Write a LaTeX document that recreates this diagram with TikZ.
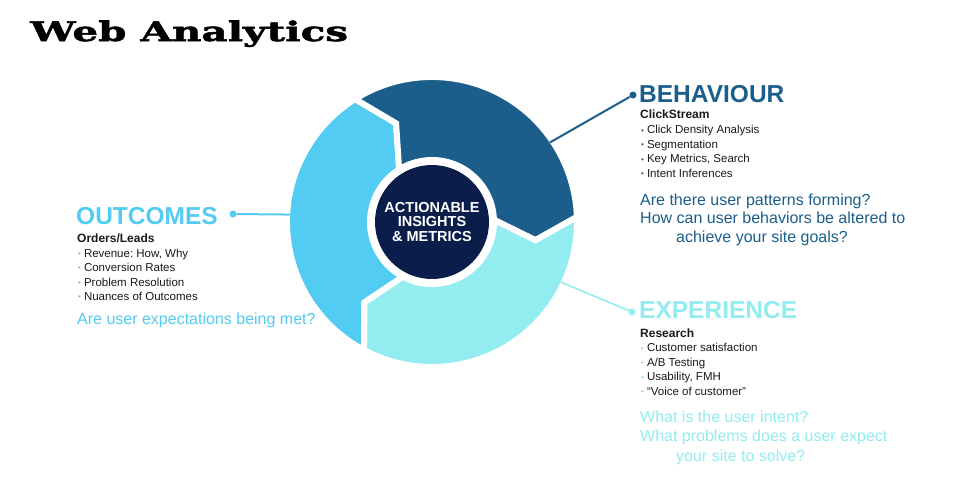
\documentclass[tikz,border=0pt]{standalone}
\usepackage{fontspec}
\setmainfont{Liberation Sans}
\newfontfamily\slabfont{DejaVu Serif}[BoldFeatures={FakeBold=2, FakeStretch=1.5}]
\definecolor{ink}{HTML}{1A1A1A}
\definecolor{navy}{HTML}{0B1E4B}
\definecolor{behav}{HTML}{1B5E8B}
\definecolor{outc}{HTML}{52CCF2}
\definecolor{exper}{HTML}{93ECF0}
\definecolor{bulgray}{HTML}{4A5560}

\newcommand\bul[1]{\raisebox{0.6pt}{\color{#1}\fontsize{8}{8}\selectfont\textbullet}\hspace{3pt}}

\begin{document}
\frenchspacing
\begin{tikzpicture}[
  x=1pt, y=-1pt,
  head/.style={anchor=base west, inner sep=0, font=\fontsize{24.5}{24.5}\selectfont\bfseries},
  sub/.style={anchor=base west, inner sep=0, text=ink, font=\fontsize{12}{12}\selectfont\bfseries},
  item/.style={anchor=base west, inner sep=0, text=ink, font=\fontsize{11.5}{11.5}\selectfont},
  ask/.style={anchor=base west, inner sep=0, font=\fontsize{16}{16}\selectfont},
  dot/.style={circle, inner sep=0, minimum size=7pt},
  link/.style={line width=2pt},
  seg/.style={draw=white, line width=6pt, line join=miter},
]
\useasboundingbox[fill=white] (0,0) rectangle (959,490);

\node[anchor=base west, inner sep=0, font=\slabfont\bfseries\fontsize{27}{27}\selectfont]
  (title) at (30,41) {Web Analytics};

% outer ring, only for anchoring the connectors
\node[circle, minimum size=284pt, inner sep=0] (ring) at (432,222) {};

% the three chevron segments
\begin{scope}[shift={(432,222)}, yscale=-1]
\foreach \a/\col in {242/outc, 122/behav, 2/exper}
  \filldraw[seg, fill=\col] (\a:145) arc[start angle=\a, end angle=\a-120, radius=145]
    -- (\a-132:105) -- (\a-120:62) arc[start angle=\a-120, end angle=\a, radius=62]
    -- (\a-12:105) -- cycle;
\end{scope}
\fill[white] (432,222) circle[radius=64];
\node[circle, fill=navy, minimum size=114pt, inner sep=0, text=white, align=center,
      font=\fontsize{14.5}{14.5}\selectfont\bfseries] (core) at (432,222)
  {ACTIONABLE\\INSIGHTS\\\& METRICS};

% connectors
\node[dot, fill=outc] (odot) at (233,214) {};
\node[dot, fill=behav] (bdot) at (633,95) {};
\node[dot, fill=exper] (edot) at (632,312) {};
\draw[link, draw=outc] (odot) -- (ring.177);
\draw[link, draw=behav] (bdot) -- (ring.34);
\draw[link, draw=exper, line width=1.6pt] (edot) -- (ring.335);

% OUTCOMES
\node[head, text=outc] (ohead) at (76,224) {OUTCOMES};
\node[sub] (osub) at (77,242.5) {Orders/Leads};
\foreach \t [count=\i] in {{Revenue: How, Why}, Conversion Rates,
                           Problem Resolution, Nuances of Outcomes}
  \node[item] (oi\i) at (78,242.5+14.5*\i) {\bul{outc}\t};
\node[ask, text=outc] (oask) at (77,324) {Are user expectations being met?};

% BEHAVIOUR
\node[head, text=behav] (bhead) at (639,102) {BEHAVIOUR};
\node[sub] (bsub) at (640,118.5) {ClickStream};
\foreach \t [count=\i] in {Click Density Analysis, Segmentation,
                           {Key Metrics, Search}, Intent Inferences}
  \node[item] (bi\i) at (641,119+14.6*\i) {\bul{bulgray}\t};
\node[ask, text=behav] (bask1) at (640,205) {Are there user patterns forming?};
\node[ask, text=behav] (bask2) at (640,223.5) {How can user behaviors be altered to};
\node[ask, text=behav] (bask3) at (676,242) {achieve your site goals?};

% EXPERIENCE
\node[head, text=exper] (ehead) at (639,318) {EXPERIENCE};
\node[sub] (esub) at (640,337) {Research};
\foreach \t [count=\i] in {Customer satisfaction, A/B Testing,
                           {Usability, FMH}, ``Voice of customer''}
  \node[item] (ei\i) at (641,337+14.6*\i) {\bul{exper!80!gray}\t};
\node[ask, text=exper] (eask1) at (640,422.5) {What is the user intent?};
\node[ask, text=exper] (eask2) at (640,441.5) {What problems does a user expect};
\node[ask, text=exper] (eask3) at (676,461) {your site to solve?};

\end{tikzpicture}
\end{document}
